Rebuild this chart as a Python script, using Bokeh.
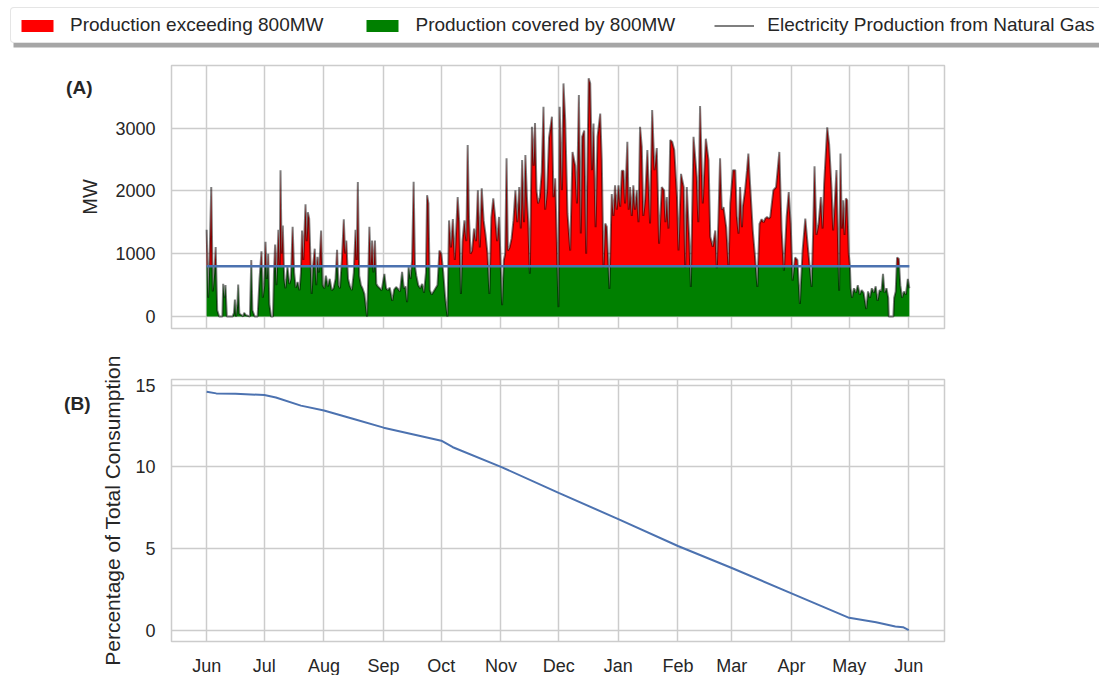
import calendar
from datetime import datetime
import numpy as np
from bokeh.plotting import figure
from bokeh.layouts import column
from bokeh.models import (Range1d, MonthsTicker, DatetimeTickFormatter, Legend, LegendItem,
                          ColumnDataSource, SingleIntervalTicker, LinearAxis, FixedTicker,
                          BoxAnnotation)
from bokeh.embed import file_html
from bokeh.resources import INLINE

# ---------------- data ----------------
start_date = datetime(2022, 6, 1)          # first day of the series (Jun)
threshold_mw = 800                          # covered production level

# panel A: electricity production from natural gas (days after start, MW)
prod_day = [
    0.0, 0.8, 1.5, 2.4, 3.2, 4.0, 4.7, 5.5, 6.5, 8.2, 8.6, 9.2, 9.8, 10.5, 13.5, 14.2, 14.7, 15.3,
    16.0, 16.4, 17.0, 19.0, 19.5, 20.5, 22.5, 23.2, 23.8, 25.0, 26.5, 27.0, 27.5, 28.5, 29.2, 30.0,
    30.6, 31.3, 32.0, 32.6, 33.5, 34.5, 35.0, 35.6, 36.3, 37.3, 38.0, 38.4, 39.0, 39.6, 40.3, 41.0,
    42.0, 43.0, 43.8, 44.7, 45.5, 46.3, 47.3, 48.3, 49.0, 49.6, 50.3, 51.4, 52.0, 52.6, 53.3, 54.0,
    54.6, 55.3, 56.2, 57.0, 57.6, 58.4, 59.5, 60.3, 61.2, 62.0, 63.0, 64.0, 65.0, 66.0, 67.0, 67.8,
    68.5, 69.3, 70.3, 71.3, 72.0, 72.6, 73.5, 74.5, 75.5, 76.5, 77.4, 78.0, 78.6, 79.3, 80.2, 81.0,
    82.0, 83.4, 84.0, 84.6, 85.3, 86.0, 86.7, 87.5, 88.2, 89.0, 90.0, 91.0,
    92.4, 93.3, 94.2, 95.2, 96.5, 97.5, 98.5, 99.5, 100.5, 101.6, 102.5, 103.3, 104.2, 105.0, 106.0,
    106.8, 107.6, 108.3, 109.0, 110.0, 111.0, 112.0, 113.0, 114.0, 114.6, 115.3, 116.0, 117.0, 118.0,
    119.0, 120.0, 121.0, 122.0, 123.0, 124.0, 125.2, 126.0, 127.0, 128.0, 129.0, 130.5, 131.3, 132.2,
    133.0, 134.0, 135.0, 135.7, 136.4, 137.2, 138.0, 139.0, 140.0, 141.0, 142.0, 143.0, 144.0, 145.0,
    146.0, 147.0, 148.0, 149.0, 150.0, 151.0, 152.0, 153.6, 154.5, 155.2, 155.9, 156.6, 157.5, 158.5,
    159.5, 160.5, 161.5, 162.5, 163.3, 164.0, 165.0, 165.7, 166.5, 167.2, 168.0, 169.1, 170.0, 170.7,
    171.5, 172.3, 173.2, 174.2, 175.1, 176.0, 177.0, 178.0, 179.5, 180.3, 181.2, 182.9, 183.5,
    184.7, 185.5, 186.4, 187.6, 189.0, 190.2, 191.6, 192.5, 193.5, 194.5, 195.2, 196.3, 197.3, 198.6,
    199.4, 200.3, 201.1, 202.2, 203.2, 204.6, 205.4, 206.3, 207.2, 208.0, 209.4, 210.6, 211.5, 212.3,
    213.2, 214.1, 215.0, 215.8, 216.7, 217.5, 218.7, 219.4, 220.1, 221.0, 221.8, 222.7, 223.6, 224.5,
    225.3, 226.2, 227.0, 227.9, 229.1, 230.5, 231.6, 232.8, 234.0, 235.2, 236.6, 237.8, 238.5, 239.2,
    240.1, 241.0, 242.0, 243.1, 244.5, 245.3, 246.6, 248.0, 248.8, 249.6, 251.0, 251.7, 253.1, 254.8,
    255.6, 256.5, 257.9, 259.5, 260.9, 261.8, 263.1, 264.4, 265.2, 266.0, 266.9, 267.8, 268.7, 270.1,
    271.3, 272.2, 273.6, 274.8, 275.6, 276.5, 277.3, 278.3, 278.7, 279.9, 280.9, 281.6, 282.5, 283.9,
    285.1, 286.3, 287.4, 288.5, 289.5, 290.4, 291.3, 292.2, 293.0, 294.6, 296.0, 297.7, 298.9, 300.1,
    301.5, 302.6, 303.6, 304.6, 305.9, 307.1, 308.4, 309.8, 311.2, 312.7, 314.5, 315.3, 316.0, 317.0,
    318.1, 319.3, 320.2, 321.0, 322.6, 323.6, 324.8, 325.7, 326.5, 327.4, 328.8, 329.5, 330.2, 330.9,
    331.6, 332.3, 333.0, 333.8, 334.4, 334.8,
    335.5, 336.5, 337.5, 338.5, 339.5, 340.5, 341.5, 342.9, 343.8, 344.8, 345.8, 346.8, 347.8, 348.8,
    349.8, 350.8, 351.6, 352.4, 353.4, 354.3, 354.6, 357.0, 357.4, 358.2, 358.9, 359.8, 360.6, 361.5,
    362.5, 363.5, 364.5, 365.3,
]
prod_mw = [
    1380, 300, 900, 2063, 400, 700, 1105, 100, 0, 0, 520, 300, 500, 0, 0, 60, 270, 0,
    200, 510, 50, 0, 60, 20, 0, 900, 100, 0, 0, 300, 600, 1040, 300, 500,
    1190, 600, 1000, 200, 0, 0, 700, 1146, 500, 1380, 800, 2328, 1000, 1450, 600, 450,
    800, 520, 600, 1430, 700, 460, 550, 420, 700, 1370, 900, 1786, 1200, 1660, 1558, 900,
    360, 800, 1080, 500, 950, 700, 1370, 500, 450, 650, 480, 600, 420, 450, 600, 1064,
    500, 450, 900, 1547, 1000, 1210, 600, 480, 420, 700, 1380, 900, 2140, 650, 500, 450,
    360, 0, 600, 1430, 800, 1210, 700, 1210, 520, 480, 450, 420,
    680, 450, 420, 460, 250, 430, 470, 440, 400, 710, 450, 480, 230, 790, 600,
    900, 2143, 800, 650, 500, 450, 520, 380, 700, 1930, 1800, 420, 350, 400,
    450, 500, 1050, 1000, 700, 300, 0, 1530, 1100, 1550, 900, 1900, 1500, 360,
    1200, 1530, 1200, 2730, 1560, 1000, 1050, 1400, 1200, 2010, 1100, 2040, 1530, 1300,
    1000, 360, 1580, 1880, 1580, 1200, 1585, 180, 900, 1000, 2520, 1050, 1100, 1240,
    1530, 2010, 1500, 2060, 1400, 2490, 1500, 2570, 1900, 1500, 680, 3020, 2400, 3080,
    2000, 1800, 1900, 2300, 3340, 1700, 2000, 2850, 3180, 1900, 2200, 150, 3340,
    2010, 3710, 3126, 1637, 1050, 2620, 2400, 1800, 3525, 1320, 2860, 2960, 1000, 3790,
    3710, 2330, 3070, 1420, 2860, 3230, 2490, 780, 1480, 1430, 440, 1950, 1600, 2090,
    1700, 2090, 1750, 2320, 2320, 1800, 2780, 1700, 2060, 1600, 2090, 1700, 2010, 1500,
    3020, 2700, 1600, 1850, 2650, 1480, 3285, 2330, 2680, 1160, 2060, 2010, 1500, 1900,
    1400, 2810, 2780, 2650, 1900, 1050, 2270, 2060, 780, 2060, 1160, 470, 2860, 2220,
    1500, 3350, 1800, 2830, 2490, 1270, 1110, 1370, 770, 1500, 2520, 1700, 1740, 1420,
    790, 1800, 2330, 2330, 1600, 1320, 2060, 1420, 1740, 2010, 2330, 2595, 2100, 1370,
    940, 470, 1476, 1550, 1500, 1560, 1585, 1560, 1585, 2010, 2060, 2620, 1370, 730,
    1585, 1980, 1476, 570, 940, 900, 200, 1050, 1560, 1050, 470, 1370, 2390, 1300,
    1476, 1900, 1400, 2116, 3010, 2740, 2060, 1370, 1800, 2330, 410, 2595, 1400, 1850,
    1300, 1880, 1850, 1000, 800, 450,
    300, 450, 380, 500, 350, 420, 380, 120, 400, 300, 450, 380, 480, 250,
    420, 400, 680, 380, 450, 300, 0, 0, 300, 400, 940, 920, 500, 300,
    400, 350, 600, 450,
]

# panel B: percentage of total consumption (days after start, %)
pct_day = [0, 5, 15, 30, 36, 49, 61, 76, 92, 107, 122, 128, 153, 183, 214, 245, 273, 304,
           334, 348, 358, 362, 365]
pct_value = [14.6, 14.5, 14.47, 14.4, 14.25, 13.75, 13.45, 12.95, 12.4, 12.0, 11.6, 11.2, 10.0,
             8.4, 6.8, 5.15, 3.8, 2.25, 0.75, 0.48, 0.22, 0.18, 0.0]

legend_labels = ["Production exceeding 800MW", "Production covered by 800MW",
                 "Electricity Production from Natural Gas"]
panel_labels = ["(A)", "(B)"]
panel_label_y = [3650, 13.9]
tick_months = list(range(1, 13))

# ---------------- helpers ----------------
FONT = "Liberation Sans"
TXT = "#262626"
GRID = "#cccccc"
RED = "#ff0000"
GREEN = "#008000"
BLUE = "#4c72b0"
DAY_MS = 86400000.0
start_ms = calendar.timegm(start_date.timetuple()) * 1000.0


def to_ms(days):
    return start_ms + np.asarray(days, dtype=float) * DAY_MS


d = np.asarray(prod_day, dtype=float)
v = np.asarray(prod_mw, dtype=float)

# insert threshold crossings so the fills meet the line exactly
fx, fy = [d[0]], [v[0]]
for i in range(1, len(d)):
    a, b = v[i - 1] - threshold_mw, v[i] - threshold_mw
    if a * b < 0:
        t = a / (a - b)
        fx.append(d[i - 1] + t * (d[i] - d[i - 1]))
        fy.append(threshold_mw)
    fx.append(d[i])
    fy.append(v[i])
fx = np.asarray(fx)
fy = np.asarray(fy)

fill_src = ColumnDataSource(dict(
    x=to_ms(fx),
    thr=np.full(len(fx), float(threshold_mw)),
    zero=np.zeros(len(fx)),
    top=np.maximum(fy, threshold_mw),
    low=np.minimum(fy, threshold_mw),
))
line_src = ColumnDataSource(dict(x=to_ms(d), y=v))
pct_src = ColumnDataSource(dict(x=to_ms(pct_day), y=pct_value))

span_days = prod_day[-1] - prod_day[0]
pad = 0.05 * span_days
x_range = Range1d(to_ms(prod_day[0] - pad), to_ms(prod_day[-1] + pad))


def style(p, ylabel, ystandoff, lsize):
    p.outline_line_color = GRID
    p.outline_line_width = 1.5
    p.background_fill_color = "white"
    p.border_fill_color = "white"
    for ax in p.axis:
        ax.axis_line_color = None
        ax.major_tick_line_color = None
        ax.minor_tick_line_color = None
        ax.major_tick_in = 0
        ax.major_tick_out = 0
        ax.minor_tick_in = 0
        ax.minor_tick_out = 0
        ax.major_label_text_font = FONT
        ax.major_label_text_font_size = "18px"
        ax.major_label_text_color = TXT
    p.yaxis.major_label_standoff = 16
    p.yaxis.axis_label = ylabel
    p.yaxis.axis_label_text_font = FONT
    p.yaxis.axis_label_text_font_size = lsize
    p.yaxis.axis_label_text_font_style = "normal"
    p.yaxis.axis_label_text_color = TXT
    p.yaxis.axis_label_standoff = ystandoff
    p.grid.grid_line_color = GRID
    p.grid.grid_line_width = 1.5


def panel_tag(p, text, y, standoff):
    ax = LinearAxis(ticker=FixedTicker(ticks=[y]), major_label_overrides={y: text},
                    axis_line_color=None, major_tick_line_color=None, minor_tick_line_color=None,
                    major_tick_in=0, major_tick_out=0, minor_tick_in=0, minor_tick_out=0,
                    major_label_standoff=standoff, major_label_text_font=FONT,
                    major_label_text_font_size="19px", major_label_text_font_style="bold",
                    major_label_text_color=TXT)
    p.add_layout(ax, "left")


# ---------------- legend strip ----------------
LW, LH = 1099, 50
pl = figure(width=LW, height=LH, x_range=Range1d(0, LW), y_range=Range1d(0, LH),
            min_border=0, output_backend="svg", toolbar_location=None)
pl.axis.visible = False
pl.grid.visible = False
pl.outline_line_color = None
# hidden copies of the series renderers: they only supply the legend glyphs
r_red = pl.varea(x="x", y1="thr", y2="top", source=fill_src, fill_color=RED, visible=False)
r_green = pl.varea(x="x", y1="zero", y2="low", source=fill_src, fill_color=GREEN, visible=False)
r_gray = pl.line(x="x", y="y", source=line_src, line_color="black", line_alpha=0.5,
                 line_width=2, visible=False)
pl.add_layout(BoxAnnotation(left=13, right=LW, bottom=3, top=37, fill_color="#a6a6a6",
                            fill_alpha=1, line_color=None))
leg = Legend(items=[LegendItem(label=legend_labels[0], renderers=[r_red]),
                    LegendItem(label=legend_labels[1], renderers=[r_green]),
                    LegendItem(label=legend_labels[2], renderers=[r_gray])],
             orientation="horizontal", location=(10, 7), margin=0, padding=6,
             glyph_width=40, glyph_height=15, label_standoff=13, spacing=39,
             label_text_font=FONT, label_text_font_size="19px", label_text_color=TXT,
             border_line_color=GRID, border_line_width=1.5, border_radius=4,
             background_fill_color="white", background_fill_alpha=1.0,
             click_policy="none")
pl.add_layout(leg)

# ---------------- panel A ----------------
p1 = figure(x_axis_type="datetime", x_range=x_range, y_range=Range1d(-190, 3995),
            frame_width=773, frame_height=263, min_border_left=171, min_border_right=155,
            min_border_top=15, min_border_bottom=17, output_backend="svg", toolbar_location=None)
p1.varea(x="x", y1="thr", y2="top", source=fill_src, fill_color=RED)
p1.varea(x="x", y1="zero", y2="low", source=fill_src, fill_color=GREEN)
p1.line(x="x", y="y", source=line_src, line_color="black", line_alpha=0.5, line_width=2)
p1.line(x=to_ms([prod_day[0], prod_day[-1]]), y=[threshold_mw, threshold_mw],
        line_color=BLUE, line_width=2.5)
style(p1, "MW", 11, "20px")
p1.yaxis.ticker = SingleIntervalTicker(interval=1000)
p1.ygrid.ticker = SingleIntervalTicker(interval=1000)
p1.xaxis.visible = False
p1.xgrid.ticker = MonthsTicker(months=tick_months)
panel_tag(p1, panel_labels[0], panel_label_y[0], -16)

# ---------------- panel B ----------------
p2 = figure(x_axis_type="datetime", x_range=x_range, y_range=Range1d(-0.7, 15.35),
            frame_width=773, frame_height=262, min_border_left=171, min_border_right=155,
            min_border_top=34, min_border_bottom=34, output_backend="svg", toolbar_location=None)
p2.line(x="x", y="y", source=pct_src, line_color=BLUE, line_width=2)
style(p2, "Percentage of Total Consumption", 8, "21px")
p2.yaxis.ticker = SingleIntervalTicker(interval=5)
p2.ygrid.ticker = SingleIntervalTicker(interval=5)
mt = MonthsTicker(months=tick_months)
p2.xaxis.ticker = mt
p2.xgrid.ticker = mt
p2.xaxis.formatter = DatetimeTickFormatter(months="%b", days="%b", years="%b", hours="%b",
                                           context=None, boundary_scaling=False)
p2.xaxis.major_label_standoff = 14
panel_tag(p2, panel_labels[1], panel_label_y[1], 8)

layout = column(pl, column(p1, p2, spacing=0), spacing=0)
open("out.html", "w").write(file_html(layout, INLINE))
